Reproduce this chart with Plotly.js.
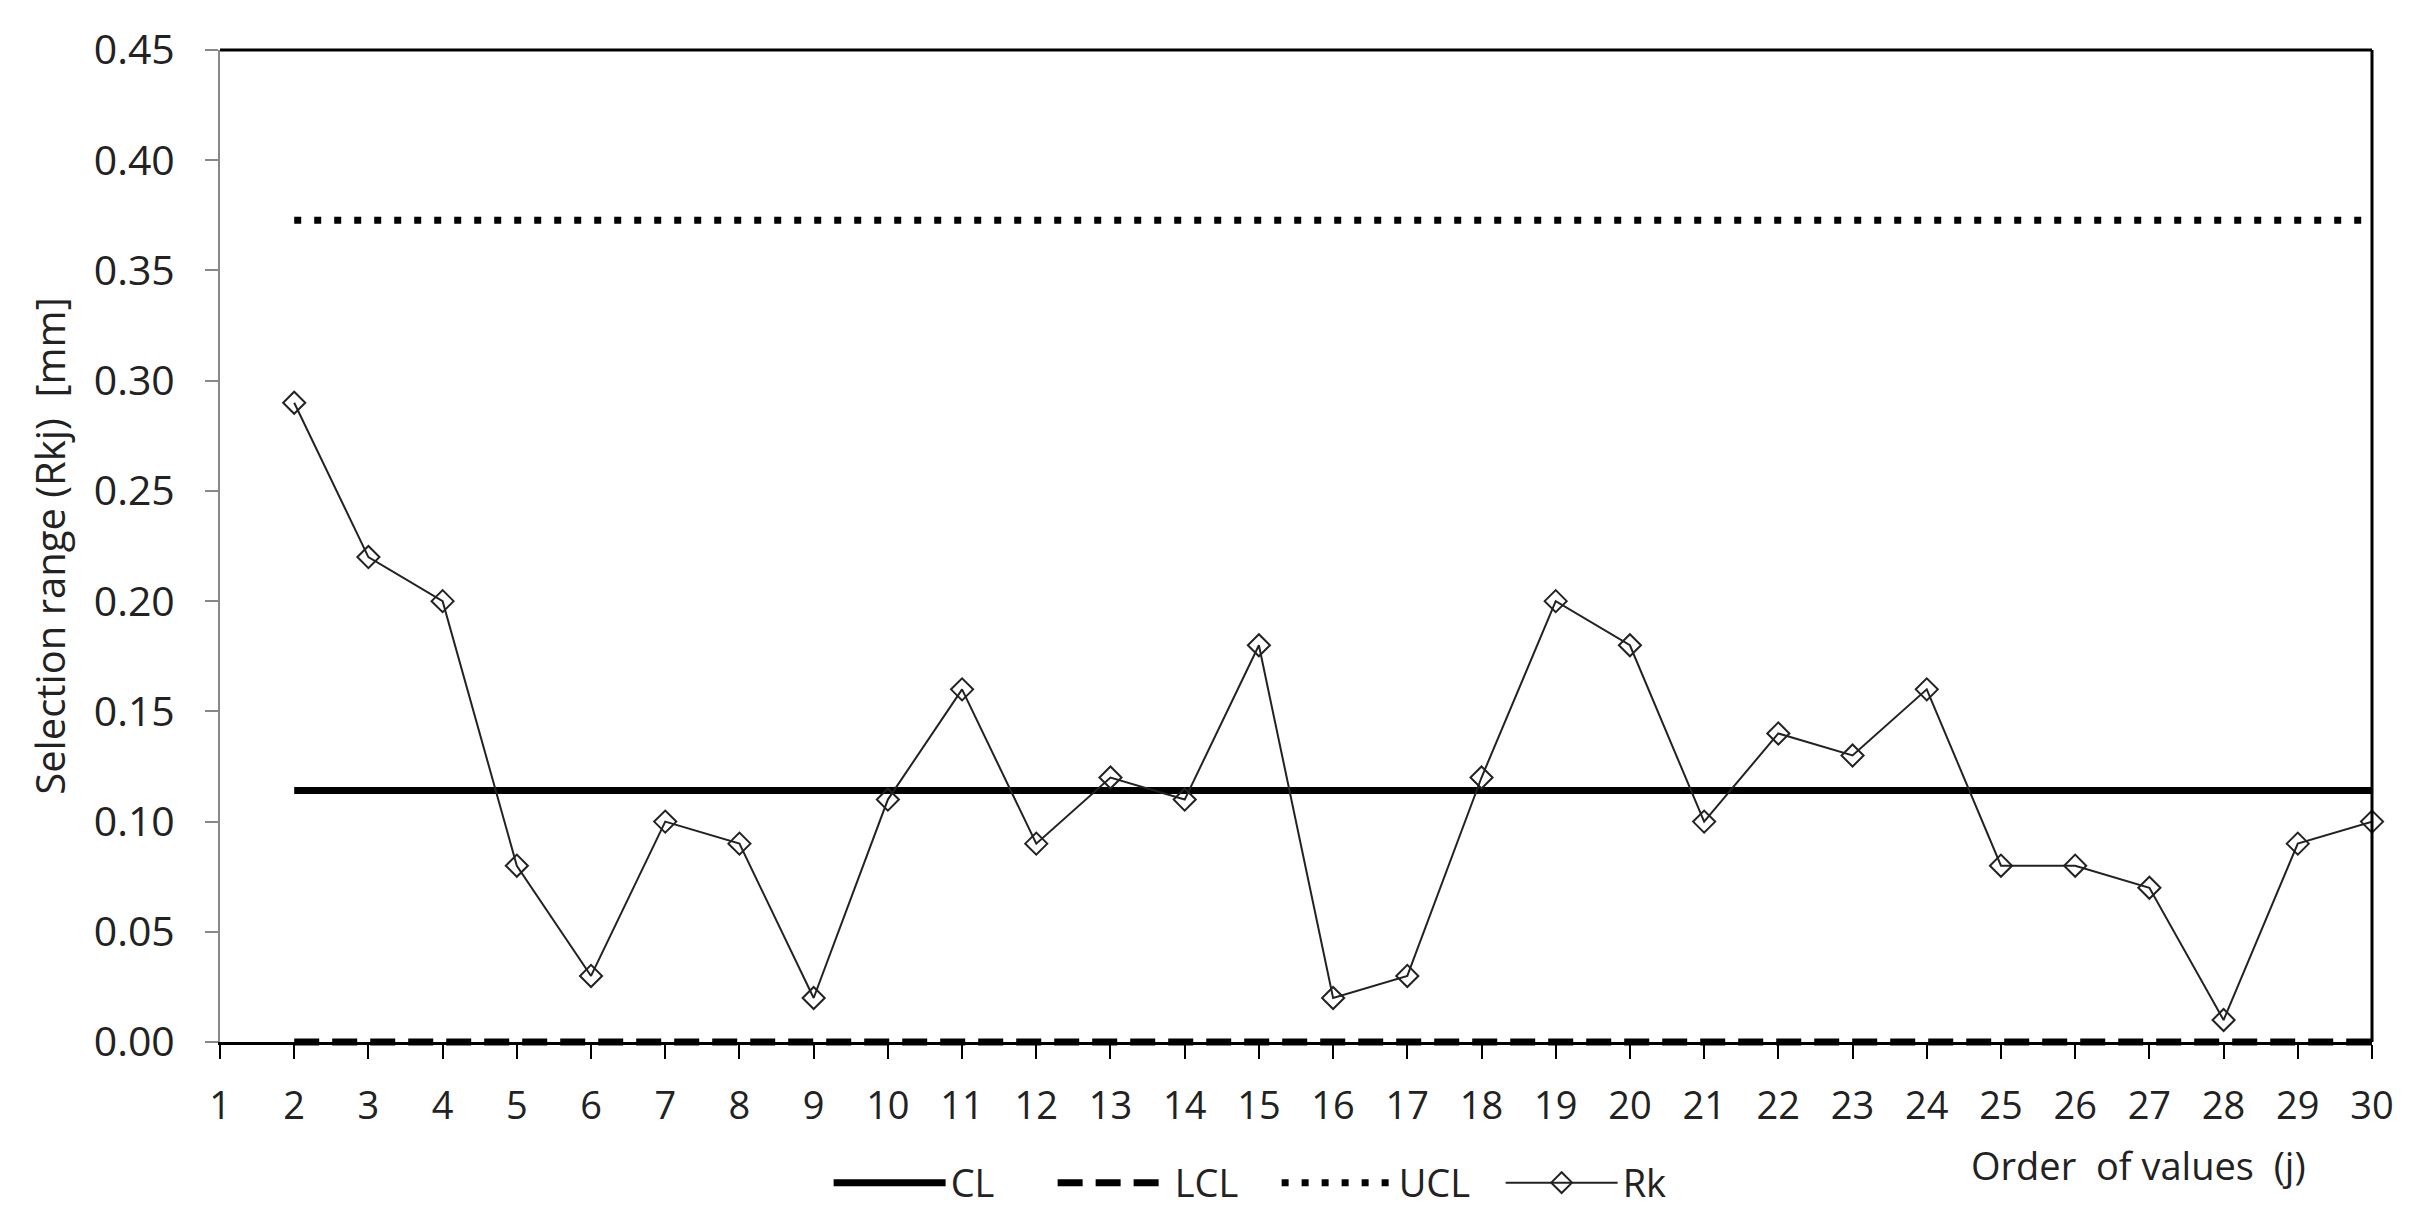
<!DOCTYPE html>
<html>
<head>
<meta charset="utf-8">
<script src="https://cdn.plot.ly/plotly-3.0.1.min.js"></script>
<style>html,body{margin:0;padding:0;background:#fff;}#chart{width:2424px;height:1227px;}</style>
</head>
<body>
<div id="chart"></div>
<script>
// Data
const order = [2,3,4,5,6,7,8,9,10,11,12,13,14,15,16,17,18,19,20,21,22,23,24,25,26,27,28,29,30];
const rk = [0.29,0.22,0.20,0.08,0.03,0.10,0.09,0.02,0.11,0.16,0.09,0.12,0.11,0.18,0.02,0.03,0.12,0.20,0.18,0.10,0.14,0.13,0.16,0.08,0.08,0.07,0.01,0.09,0.10];
const CL = 0.1141;
const LCL = 0.0;
const UCL = 0.3728;
const xTicks = [1,2,3,4,5,6,7,8,9,10,11,12,13,14,15,16,17,18,19,20,21,22,23,24,25,26,27,28,29,30];
const yTicks = [0,0.05,0.10,0.15,0.20,0.25,0.30,0.35,0.40,0.45];
const yMax = 0.45;

const FONT = 'Open Sans, sans-serif';
const clY = order.map(() => CL);
const lclY = order.map(() => LCL);
const uclY = order.map(() => UCL);

// layout geometry (pixels)
const W = 2424, H = 1227, ML = 220, MR = 52, MT = 50, MB = 167, PAD = 10;
const plotH = H - MT - MB;            // overlay area height
const mainFrac = PAD / plotH;         // main subplot starts PAD px above overlay bottom
const y2Min = -yMax * PAD / (plotH - PAD);
const py = px => (H - MB - px) / plotH;   // pixel -> paper y

const traces = [
  {x: order, y: clY, name: 'CL', mode: 'lines', line: {color: '#000', width: 7}, hoverinfo: 'skip'},
  {x: order, y: lclY, name: 'LCL', mode: 'lines', xaxis: 'x2', yaxis: 'y2',
   line: {color: '#000', width: 7, dash: '25px,13px'}, hoverinfo: 'skip'},
  {x: order, y: uclY, name: 'UCL', mode: 'lines', line: {color: '#000', width: 7, dash: '7px,13px'}, hoverinfo: 'skip'},
  {x: order, y: rk, name: 'Rk', mode: 'lines+markers', cliponaxis: false,
   line: {color: '#222', width: 2},
   marker: {symbol: 'diamond-open', size: 17, color: '#222', line: {width: 2, color: '#222'}}}
];

const layout = {
  width: W, height: H,
  margin: {l: ML, r: MR, t: MT, b: MB},
  paper_bgcolor: '#fff', plot_bgcolor: 'rgba(0,0,0,0)',
  font: {family: FONT, color: '#222', size: 38},
  showlegend: true,
  legend: {orientation: 'h', x: 0.491, xanchor: 'center', y: py(1192), yanchor: 'middle',
           font: {family: FONT, size: 38, color: '#222'}, itemwidth: 112,
           entrywidth: 97, entrywidthmode: 'pixels', traceorder: 'normal',
           itemclick: false, itemdoubleclick: false},
  xaxis: {
    range: [1, 30], tickmode: 'array', tickvals: xTicks, ticktext: xTicks.map(String),
    showgrid: false, zeroline: false, showline: true, linecolor: '#000', linewidth: 3,
    ticks: 'outside', ticklen: 14, tickwidth: 2, tickcolor: '#000', anchor: 'y',
    tickfont: {family: FONT, size: 38, color: '#222'}, ticklabelstandoff: 14
  },
  yaxis: {
    domain: [mainFrac, 1],
    range: [0, yMax], tickmode: 'array', tickvals: yTicks, tickformat: '.2f',
    showgrid: false, zeroline: false, showline: true, linecolor: '#888', linewidth: 2,
    ticks: 'outside', ticklen: 13, tickwidth: 2, tickcolor: '#888',
    tickfont: {family: FONT, size: 41, color: '#222'}, ticklabelstandoff: 22,
    title: {text: 'Selection range (Rkj)\u00a0 [mm]', font: {family: FONT, size: 40, color: '#222'}, standoff: 16}
  },
  xaxis2: {range: [1, 30], overlaying: 'x', anchor: 'y2', visible: false, fixedrange: true},
  yaxis2: {range: [y2Min, yMax], domain: [0, 1], anchor: 'x2', visible: false, fixedrange: true},
  shapes: [
    {type: 'line', xref: 'paper', yref: 'paper', x0: 0, x1: 1, y0: 1, y1: 1, line: {color: '#000', width: 3}},
    {type: 'line', xref: 'paper', yref: 'paper', x0: 1, x1: 1, y0: mainFrac, y1: 1, line: {color: '#000', width: 3}}
  ],
  annotations: [
    {text: 'Order\u00a0 of values\u00a0 (j)', xref: 'paper', yref: 'paper', x: (2138 - ML) / (W - ML - MR), y: py(1174),
     xanchor: 'center', yanchor: 'middle', showarrow: false, font: {family: FONT, size: 38, color: '#222'}}
  ]
};

Plotly.newPlot('chart', traces, layout, {displayModeBar: false, staticPlot: true});
</script>
</body>
</html>
